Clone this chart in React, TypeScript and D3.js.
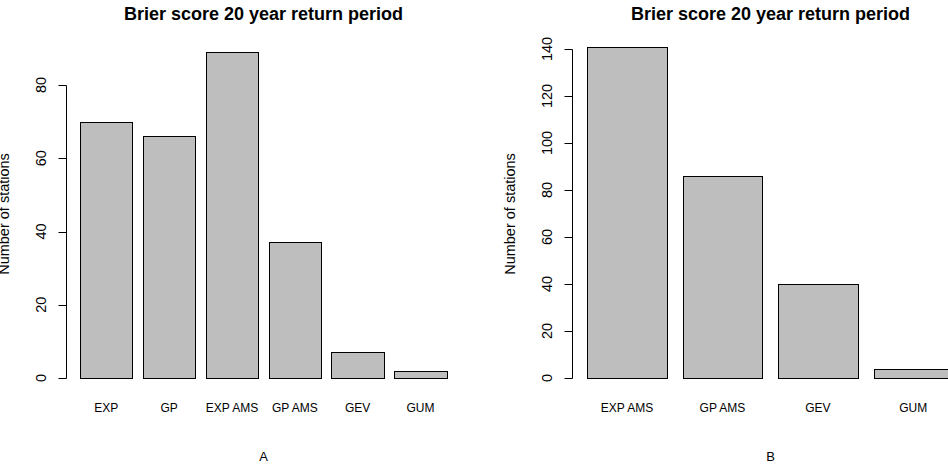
import React from "react";
import * as d3 from "d3";

// Panel A: all candidate distributions
const catsA = ["EXP", "GP", "EXP AMS", "GP AMS", "GEV", "GUM"];
const valsA = [70, 66, 89, 37, 7, 2];
const ticksA = [0, 20, 40, 60, 80];

// Panel B: annual-maximum-series distributions only
const catsB = ["EXP AMS", "GP AMS", "GEV", "GUM"];
const valsB = [141, 86, 40, 4];
const ticksB = [0, 20, 40, 60, 80, 100, 120, 140];

const TITLE = "Brier score 20 year return period";
const YLABEL = "Number of stations";
const FONT = "'Liberation Sans', Arial, Helvetica, sans-serif";

type PanelProps = {
  cats: string[];
  vals: number[];
  ticks: number[];
  axisX: number;
  barStart: number;
  barEnd: number;
  yTop: number;
  yBottom: number;
  titleX: number;
  letter: string;
};

function Panel({ cats, vals, ticks, axisX, barStart, barEnd, yTop, yBottom, titleX, letter }: PanelProps) {
  const maxTick = ticks[ticks.length - 1];
  const y = d3.scaleLinear().domain([0, maxTick]).range([yBottom, yTop]);
  const x = d3
    .scaleBand<string>()
    .domain(cats)
    .range([barStart, barEnd])
    .paddingInner(0.2 / 1.2)
    .paddingOuter(0);
  const bw = x.bandwidth();
  const ax = Math.round(axisX) + 0.5;
  const midY = 214;

  return (
    <g>
      <text
        x={titleX}
        y={19.5}
        textAnchor="middle"
        fontFamily={FONT}
        fontWeight="bold"
        fontSize={18}
        fill="#000"
      >
        {TITLE}
      </text>

      {cats.map((c, i) => {
        const x0 = Math.round(x(c)!) + 0.5;
        const x1 = Math.round(x(c)! + bw) + 0.5;
        const yt = Math.round(y(vals[i])) + 0.5;
        const yb = Math.round(y(0)) + 0.5;
        return (
          <g key={c}>
            <rect
              x={x0}
              y={yt}
              width={x1 - x0}
              height={yb - yt}
              fill="#bebebe"
              stroke="#000"
              strokeWidth={1}
            />
            <text
              x={x(c)! + bw / 2}
              y={412}
              textAnchor="middle"
              fontFamily={FONT}
              fontSize={12}
              fill="#000"
            >
              {c}
            </text>
          </g>
        );
      })}

      {/* y axis */}
      <line x1={ax} x2={ax} y1={Math.round(y(maxTick)) + 0.5} y2={Math.round(y(0)) + 0.5} stroke="#000" />
      {ticks.map((t) => {
        const ty = Math.round(y(t)) + 0.5;
        return (
          <g key={t}>
            <line x1={ax - 8} x2={ax} y1={ty} y2={ty} stroke="#000" />
            <text
              transform={`translate(${axisX - 20},${y(t)}) rotate(-90)`}
              textAnchor="middle"
              fontFamily={FONT}
              fontSize={14.5}
              fill="#000"
            >
              {t}
            </text>
          </g>
        );
      })}

      <text
        transform={`translate(${axisX - 57},${midY}) rotate(-90)`}
        textAnchor="middle"
        fontFamily={FONT}
        fontSize={14.5}
        fill="#000"
      >
        {YLABEL}
      </text>

      <text x={titleX} y={461} textAnchor="middle" fontFamily={FONT} fontSize={13} fill="#000">
        {letter}
      </text>
    </g>
  );
}

export default function App() {
  return (
    <svg
      width={948}
      height={468}
      style={{ position: "absolute", left: 0, top: 0, background: "#fff" }}
    >
      <rect width={948} height={468} fill="#fff" />
      <Panel
        cats={catsA}
        vals={valsA}
        ticks={ticksA}
        axisX={65.7}
        barStart={80}
        barEnd={446.7}
        yTop={85}
        yBottom={378}
        titleX={263.5}
        letter="A"
      />
      <Panel
        cats={catsB}
        vals={valsB}
        ticks={ticksB}
        axisX={572.3}
        barStart={587.3}
        barEnd={953}
        yTop={49}
        yBottom={378}
        titleX={770.5}
        letter="B"
      />
    </svg>
  );
}
